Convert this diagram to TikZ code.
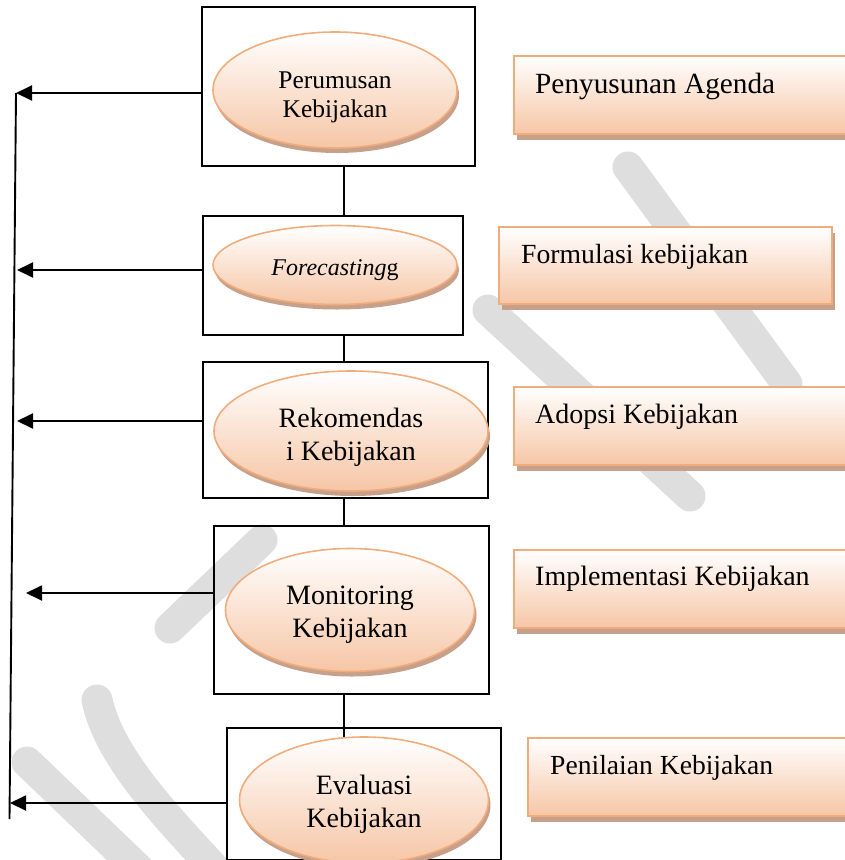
\documentclass[tikz,border=0pt]{standalone}
\usepackage{fontspec}
\setmainfont{Liberation Serif}[
  UprightFont={Liberation Serif},
  ItalicFont={Liberation Serif Italic},
  BoldFont={Liberation Serif Bold}]
\usetikzlibrary{arrows.meta,shapes.geometric,shadows}

\definecolor{edgeorange}{RGB}{241,172,124}
\definecolor{peach}{RGB}{246,198,166}
\definecolor{shadowtan}{RGB}{198,160,138}
\definecolor{markgray}{RGB}{222,222,222}

\tikzset{
  frame/.style={draw=black, line width=1.9pt, inner sep=0pt, anchor=north west},
  stage/.style={ellipse, draw=edgeorange, line width=1.6pt, inner sep=0pt,
    top color=white, bottom color=peach,
    drop shadow={shadow xshift=2pt, shadow yshift=-5pt, fill=shadowtan, opacity=1}},
  stagetext/.style={inner sep=0pt, align=center, font=\fontsize{28}{33}\selectfont},
  phase/.style={rectangle, draw=edgeorange, line width=1.6pt, inner sep=0pt, anchor=north west,
    top color=white, bottom color=peach,
    drop shadow={shadow xshift=3pt, shadow yshift=-6pt, fill=shadowtan, opacity=1}},
  phasetext/.style={anchor=base west, inner sep=0pt, font=\fontsize{28}{33}\selectfont},
  link/.style={draw=black, line width=1.9pt},
  back/.style={draw=black, line width=1.9pt, -{Triangle[length=16pt,width=15pt]}},
  band/.style={draw=markgray, line width=31pt, line cap=round},
}

\begin{document}
\begin{tikzpicture}[x=1pt, y=-1pt]
\useasboundingbox (0,0) rectangle (845,860);

% faint background stamp
\draw[band] (628,167) -- (787,384);
\draw[band] (488,310) -- (690,496);
\draw[band] (170,628) -- (262,540);
\draw[band] (27,762) -- (150,880);
\draw[band] (97,700) .. controls (110,760) and (170,820) .. (225,880);

% outer frames of the five analysis steps
\node[frame, minimum width=273pt, minimum height=159pt] (b1) at (201,6) {};
\node[frame, minimum width=260pt, minimum height=119pt] (b2) at (202,215) {};
\node[frame, minimum width=285pt, minimum height=136pt] (b3) at (202,361) {};
\node[frame, minimum width=275pt, minimum height=168pt] (b4) at (213,525) {};
\node[frame, minimum width=274pt, minimum height=132pt] (b5) at (226,727) {};

% vertical links between the frames
\coordinate (cx) at (344,0);
\draw[link] (b1.south -| cx) -- (b2.north -| cx);
\draw[link] (b2.south -| cx) -- (b3.north -| cx);
\draw[link] (b3.south -| cx) -- (b4.north -| cx);
\draw[link] (b4.south -| cx) -- (344,738);

% ellipses with the analysis steps
\node[stage, minimum width=244pt, minimum height=116pt] (e1) at (335,90) {};
\node[stage, minimum width=244pt, minimum height=79pt] (e2) at (335,265) {};
\node[stage, minimum width=274pt, minimum height=120pt] (e3) at (351,431) {};
\node[stage, minimum width=249pt, minimum height=123pt] (e4) at (350,610) {};
\node[stage, minimum width=249pt, minimum height=126pt] (e5) at (364,800) {};

\node[stagetext, font=\fontsize{25.5}{29}\selectfont] (e1t) at (335,97) {Perumusan\\Kebijakan};
\node[stagetext, font=\fontsize{24}{28}\selectfont] (e2t) at (335,270) {\textit{Forecasting}g};
\node[stagetext] (e3t) at (351,437) {Rekomendas\\i Kebijakan};
\node[stagetext] (e4t) at (350,615) {Monitoring\\Kebijakan};
\node[stagetext] (e5t) at (364,804) {Evaluasi\\Kebijakan};

% policy process phases on the right
\node[phase, minimum width=337pt, minimum height=78pt] (r1) at (513,55) {};
\node[phasetext, font=\fontsize{29.3}{33}\selectfont] (r1t) at (535,93) {Penyusunan Agenda};
\node[phase, minimum width=333pt, minimum height=77pt] (r2) at (498,226) {};
\node[phasetext, font=\fontsize{27.7}{33}\selectfont] (r2t) at (521,263) {Formulasi kebijakan};
\node[phase, minimum width=337pt, minimum height=78pt] (r3) at (513,386) {};
\node[phasetext] (r3t) at (535,423) {Adopsi Kebijakan};
\node[phase, minimum width=337pt, minimum height=78pt] (r4) at (513,549) {};
\node[phasetext] (r4t) at (535,585) {Implementasi Kebijakan};
\node[phase, minimum width=323pt, minimum height=78pt] (r5) at (527,737) {};
\node[phasetext, font=\fontsize{27.6}{33}\selectfont] (r5t) at (550,774) {Penilaian Kebijakan};

% feedback arrows to the left rail
\coordinate (t1) at (16,93);
\coordinate (t2) at (17,270);
\coordinate (t3) at (17,421);
\coordinate (t4) at (26,593);
\coordinate (t5) at (10,803);
\coordinate (railend) at (9.5,819);
\draw[link] (t1) -- (railend);
\draw[back] (b1.west |- t1) -- (t1);
\draw[back] (b2.west |- t2) -- (t2);
\draw[back] (b3.west |- t3) -- (t3);
\draw[back] (b4.west |- t4) -- (t4);
\draw[back] (b5.west |- t5) -- (t5);
\end{tikzpicture}
\end{document}
